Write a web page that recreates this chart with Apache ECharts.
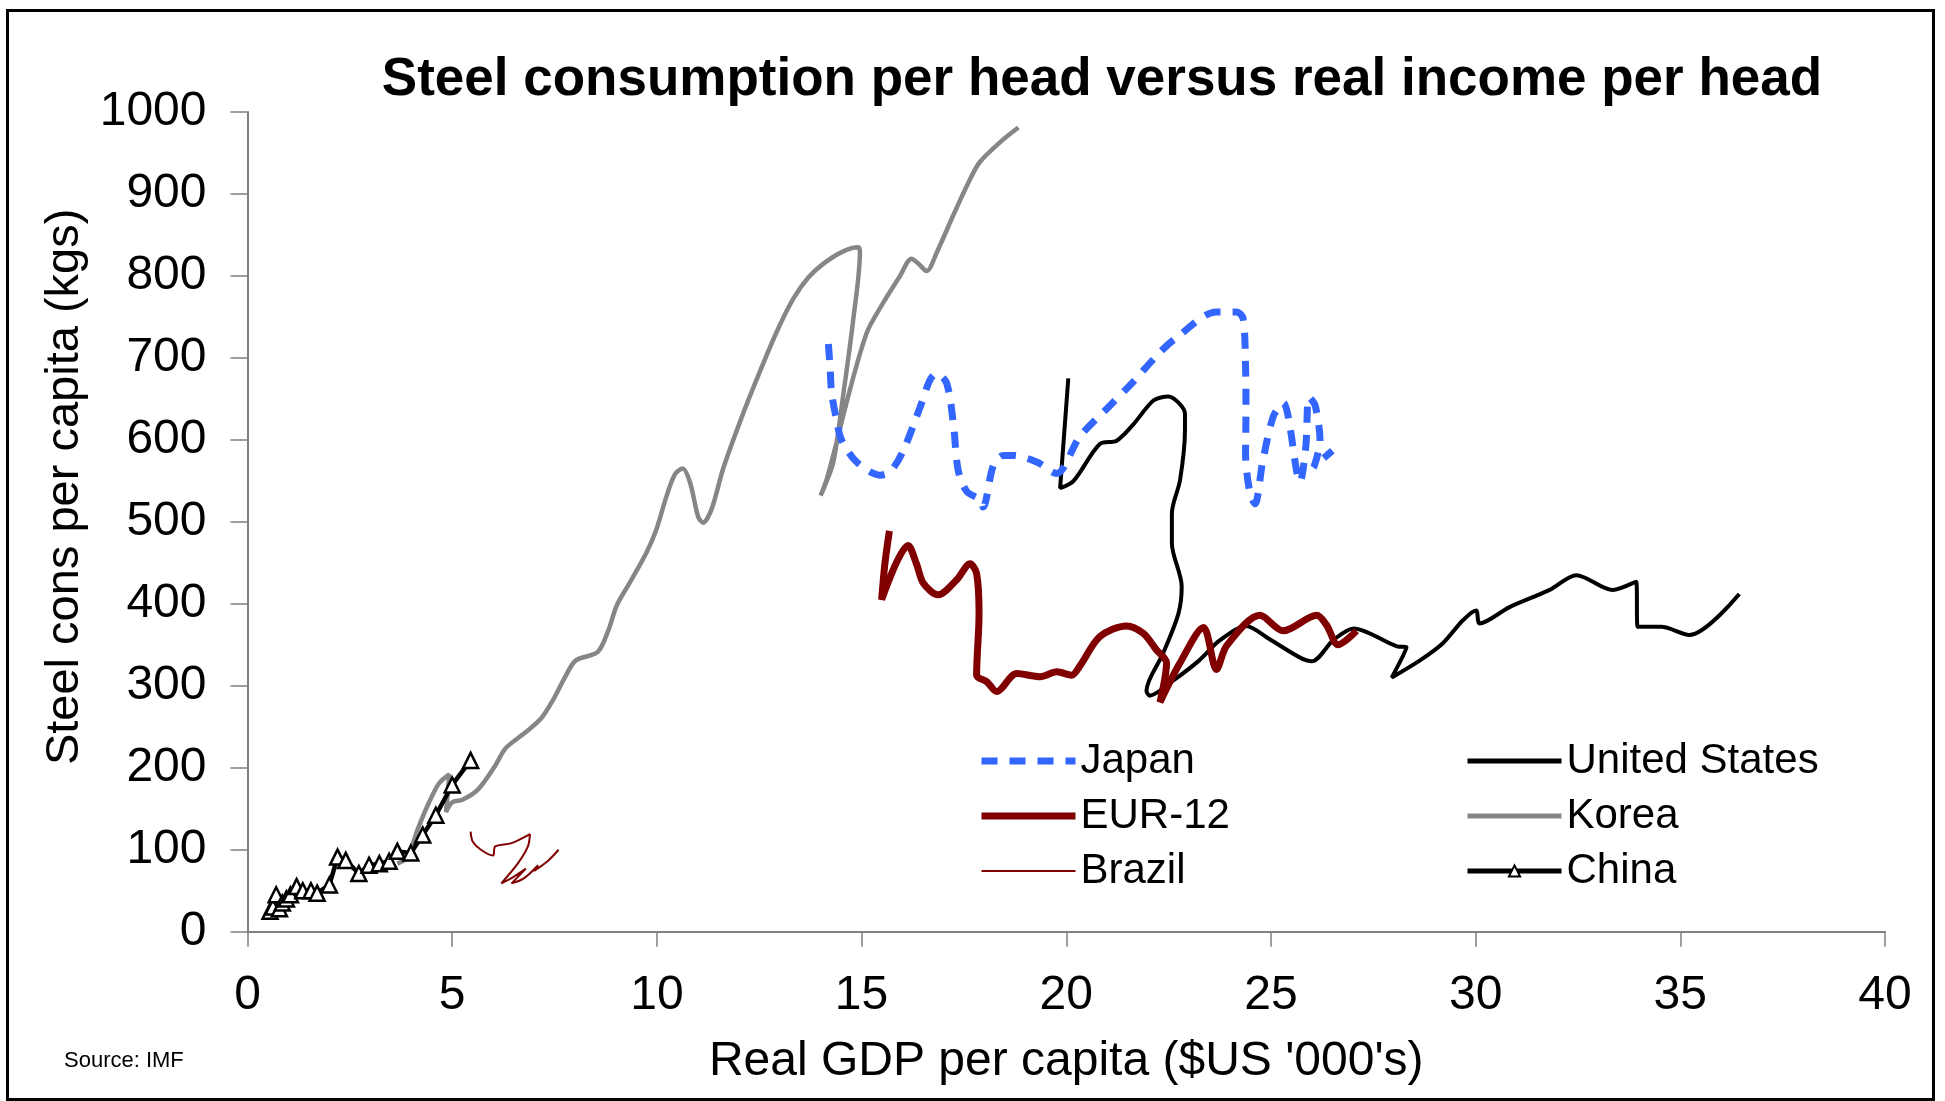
<!DOCTYPE html>
<html>
<head>
<meta charset="utf-8">
<script src="https://cdn.jsdelivr.net/npm/echarts@6/dist/echarts.min.js"></script>
<style>
html,body{margin:0;padding:0;background:#fff;}
#chart{width:1945px;height:1101px;}
</style>
</head>
<body>
<div id="chart"></div>
<script>
// ---- data: [real GDP per capita ($US '000), steel consumption per capita (kg)] ----
var seriesNames = ['Japan', 'EUR-12', 'Brazil', 'United States', 'Korea', 'China'];
var xTicks = [0, 5, 10, 15, 20, 25, 30, 35, 40];
var yTicks = [0, 100, 200, 300, 400, 500, 600, 700, 800, 900, 1000];

var japan = [[14.19,717],[14.23,689],[14.27,657],[14.39,624],[14.51,600],[14.88,573],[15.45,557],[15.7,561],
  [16.02,587],[16.43,640],[16.67,673],[16.83,681],[17.08,669],[17.25,616],[17.36,563],[17.57,537],[17.9,527],
  [17.97,518],[18.22,569],[18.46,581],[18.71,581],[19.28,573],[19.76,559],[20.33,604],[21.07,642],[21.6,669],
  [22.29,707],[22.65,723],[23.67,756],[24.16,756],[24.32,748],[24.38,689],[24.39,632],[24.38,583],[24.49,534],
  [24.61,522],[24.8,574],[25.06,629],[25.3,645],[25.71,549],[25.85,591],[25.93,652],[26.08,642],[26.2,598],
  [26.05,567],[26.5,587]];

var eur12 = [[15.68,489],[15.57,449],[15.49,405],[16.14,471],[16.34,449],[16.51,425],[16.87,411],[17.32,429],
  [17.65,449],[17.81,437],[17.87,388],[17.81,313],[18.06,305],[18.3,293],[18.79,315],[19.36,311],[19.77,317],
  [20.13,313],[20.33,324],[20.82,360],[21.47,373],[21.88,364],[22.2,344],[22.45,328],[22.29,280],[22.78,328],
  [23.35,371],[23.67,320],[23.92,349],[24.73,386],[25.3,367],[26.12,386],[26.36,374],[26.64,350],[27.09,367]];

var brazil = [[5.45,122],[5.5,110],[5.7,100],[6.0,93],[6.05,104],[6.45,108],[6.9,119],[6.85,104],[6.6,83],
  [6.2,59],[6.5,67],[6.8,77],[6.45,59],[6.75,65],[7.1,81],[7.0,74],[7.35,87],[7.6,100]];

var unitedStates = [[20.05,675],[19.85,541],[20.18,550],[20.82,595],[21.23,599],[21.64,619],[22.13,648],
  [22.49,653],[22.9,632],[22.9,612],[22.78,551],[22.58,510],[22.58,474],[22.82,421],[22.74,388],[22.37,340],
  [21.96,294],[22.04,288],[22.6,306],[23.25,331],[23.74,355],[24.39,373],[24.96,357],[25.69,335],[26.0,330],
  [26.53,356],[27.02,370],[28.08,348],[28.31,347],[27.95,310],[28.64,331],[29.2,352],[29.69,380],[30.01,392],
  [30.1,376],[30.83,396],[31.81,417],[32.46,435],[33.35,417],[33.92,427],[33.96,372],[34.53,372],[35.22,362],
  [36.44,412]];

var korea = [[3.66,83],[3.91,91],[4.15,124],[4.4,154],[4.68,181],[4.93,192],[4.89,169],[4.85,146],[5.0,158],
  [5.25,161],[5.62,173],[6.03,201],[6.31,224],[6.76,242],[7.17,260],[7.49,285],[7.74,309],[8.02,331],[8.55,341],
  [8.81,367],[9.02,398],[9.34,426],[9.75,463],[9.99,491],[10.24,532],[10.44,558],[10.63,565],[10.81,548],
  [11.01,506],[11.13,499],[11.34,516],[11.62,565],[12.03,622],[12.44,674],[12.92,731],[13.33,772],[13.7,798],
  [14.07,815],[14.55,830],[14.92,835],[14.96,829],[14.8,748],[14.55,654],[14.31,573],[14.07,540],[14.0,532],
  [14.15,552],[14.39,597],[14.72,662],[15.13,731],[15.49,764],[15.94,800],[16.22,821],[16.39,815],[16.59,806],
  [16.84,829],[17.24,874],[17.65,918],[17.89,939],[18.38,963],[18.83,981]];

var china = [[0.55,25],[0.62,30],[0.7,45],[0.78,28],[0.85,35],[0.95,40],[1.05,45],[1.2,55],[1.35,50],[1.55,50],
  [1.7,47],[2.0,57],[2.2,91],[2.4,87],[2.72,71],[2.97,81],[3.22,83],[3.46,86],[3.66,98],[3.99,96],[4.28,118],
  [4.6,142],[5.0,179],[5.45,209]];

var FONT = '"Liberation Sans", Arial, Helvetica, sans-serif';
var COLORS = {japan: '#3366FF', eur: '#800000', brazil: '#800000', us: '#000000', korea: '#868686', china: '#000000'};

var chart = echarts.init(document.getElementById('chart'), null, {renderer: 'canvas'});

function lineSeries(name, data, color, width, lineType) {
  return {
    name: name,
    type: 'line',
    data: data,
    smooth: 0.3,
    symbol: 'none',
    showSymbol: false,
    lineStyle: {color: color, width: width, type: lineType || 'solid'},
    itemStyle: {color: color},
    emphasis: {disabled: true},
    z: 2
  };
}

function legendItem(name, color, width, lineType) {
  return {
    name: name,
    itemStyle: {opacity: 0},
    lineStyle: {color: color, width: width, type: lineType || 'solid'}
  };
}

var legendText = {fontFamily: FONT, fontSize: 42, color: '#000', lineHeight: 44};

var option = {
  animation: false,
  backgroundColor: '#ffffff',
  title: {
    text: 'Steel consumption per head versus real income per head',
    left: 1097,
    top: 49,
    textAlign: 'center',
    textStyle: {fontFamily: FONT, fontSize: 53, fontWeight: 'bold', color: '#000'}
  },
  grid: {left: 247.5, right: 60, top: 112, bottom: 169.3, containLabel: false},
  xAxis: {
    type: 'value',
    min: xTicks[0],
    max: xTicks[xTicks.length - 1],
    interval: 5,
    name: "Real GDP per capita ($US '000's)",
    nameLocation: 'middle',
    nameGap: 106,
    nameTextStyle: {fontFamily: FONT, fontSize: 48, color: '#000'},
    axisLine: {show: true, onZero: false, lineStyle: {color: '#808080', width: 2}},
    axisTick: {show: true, inside: false, length: 15, lineStyle: {color: '#808080', width: 1.5}},
    axisLabel: {fontFamily: FONT, fontSize: 48, color: '#000', margin: 40,
      formatter: function (v) { return String(v); }},
    splitLine: {show: false}
  },
  yAxis: {
    type: 'value',
    min: yTicks[0],
    max: yTicks[yTicks.length - 1],
    interval: 100,
    name: 'Steel cons per capita (kgs)',
    nameLocation: 'middle',
    nameRotate: 90,
    nameGap: 155,
    nameTextStyle: {fontFamily: FONT, fontSize: 47, color: '#000', padding: [0, 0, 0, 70]},
    axisLine: {show: true, onZero: false, lineStyle: {color: '#808080', width: 2}},
    axisTick: {show: true, inside: false, length: 17, lineStyle: {color: '#808080', width: 1.5}},
    axisLabel: {fontFamily: FONT, fontSize: 48, color: '#000', margin: 41,
      formatter: function (v) { return String(v); }},
    splitLine: {show: false}
  },
  legend: [
    {
      data: [
        legendItem(seriesNames[0], COLORS.japan, 7, [16, 12]),
        legendItem(seriesNames[1], COLORS.eur, 7),
        legendItem(seriesNames[2], COLORS.brazil, 2)
      ],
      orient: 'vertical',
      left: 978,
      top: 739,
      padding: 0,
      itemWidth: 94,
      itemHeight: 14,
      itemGap: 11,
      selectedMode: false,
      textStyle: legendText
    },
    {
      data: [
        legendItem(seriesNames[3], COLORS.us, 5),
        legendItem(seriesNames[4], COLORS.korea, 5),
        {name: seriesNames[5], lineStyle: {color: COLORS.china, width: 5}}
      ],
      orient: 'vertical',
      left: 1465,
      top: 739,
      padding: 0,
      itemWidth: 94,
      itemHeight: 14,
      itemGap: 11,
      selectedMode: false,
      textStyle: legendText
    }
  ],
  series: [
    lineSeries(seriesNames[4], korea, COLORS.korea, 4.5),
    lineSeries(seriesNames[3], unitedStates, COLORS.us, 4),
    lineSeries(seriesNames[1], eur12, COLORS.eur, 7),
    lineSeries(seriesNames[0], japan, COLORS.japan, 7, [16, 12]),
    lineSeries(seriesNames[2], brazil, COLORS.brazil, 2),
    {
      name: seriesNames[5],
      type: 'line',
      data: china,
      smooth: false,
      symbol: 'triangle',
      symbolSize: 15,
      showSymbol: true,
      lineStyle: {color: COLORS.china, width: 4.5},
      itemStyle: {color: '#ffffff', borderColor: '#000000', borderWidth: 2.5},
      emphasis: {disabled: true},
      z: 3
    }
  ],
  graphic: [
    {
      type: 'rect',
      left: 5,
      top: 8,
      shape: {x: 0, y: 0, width: 1926, height: 1089},
      style: {fill: 'none', stroke: '#000', lineWidth: 3},
      silent: true,
      z: 100
    },
    {
      type: 'text',
      left: 64,
      top: 1050,
      style: {text: 'Source: IMF', fontFamily: FONT, fontSize: 22, fill: '#000'},
      silent: true
    }
  ]
};

chart.setOption(option);
</script>
</body>
</html>
